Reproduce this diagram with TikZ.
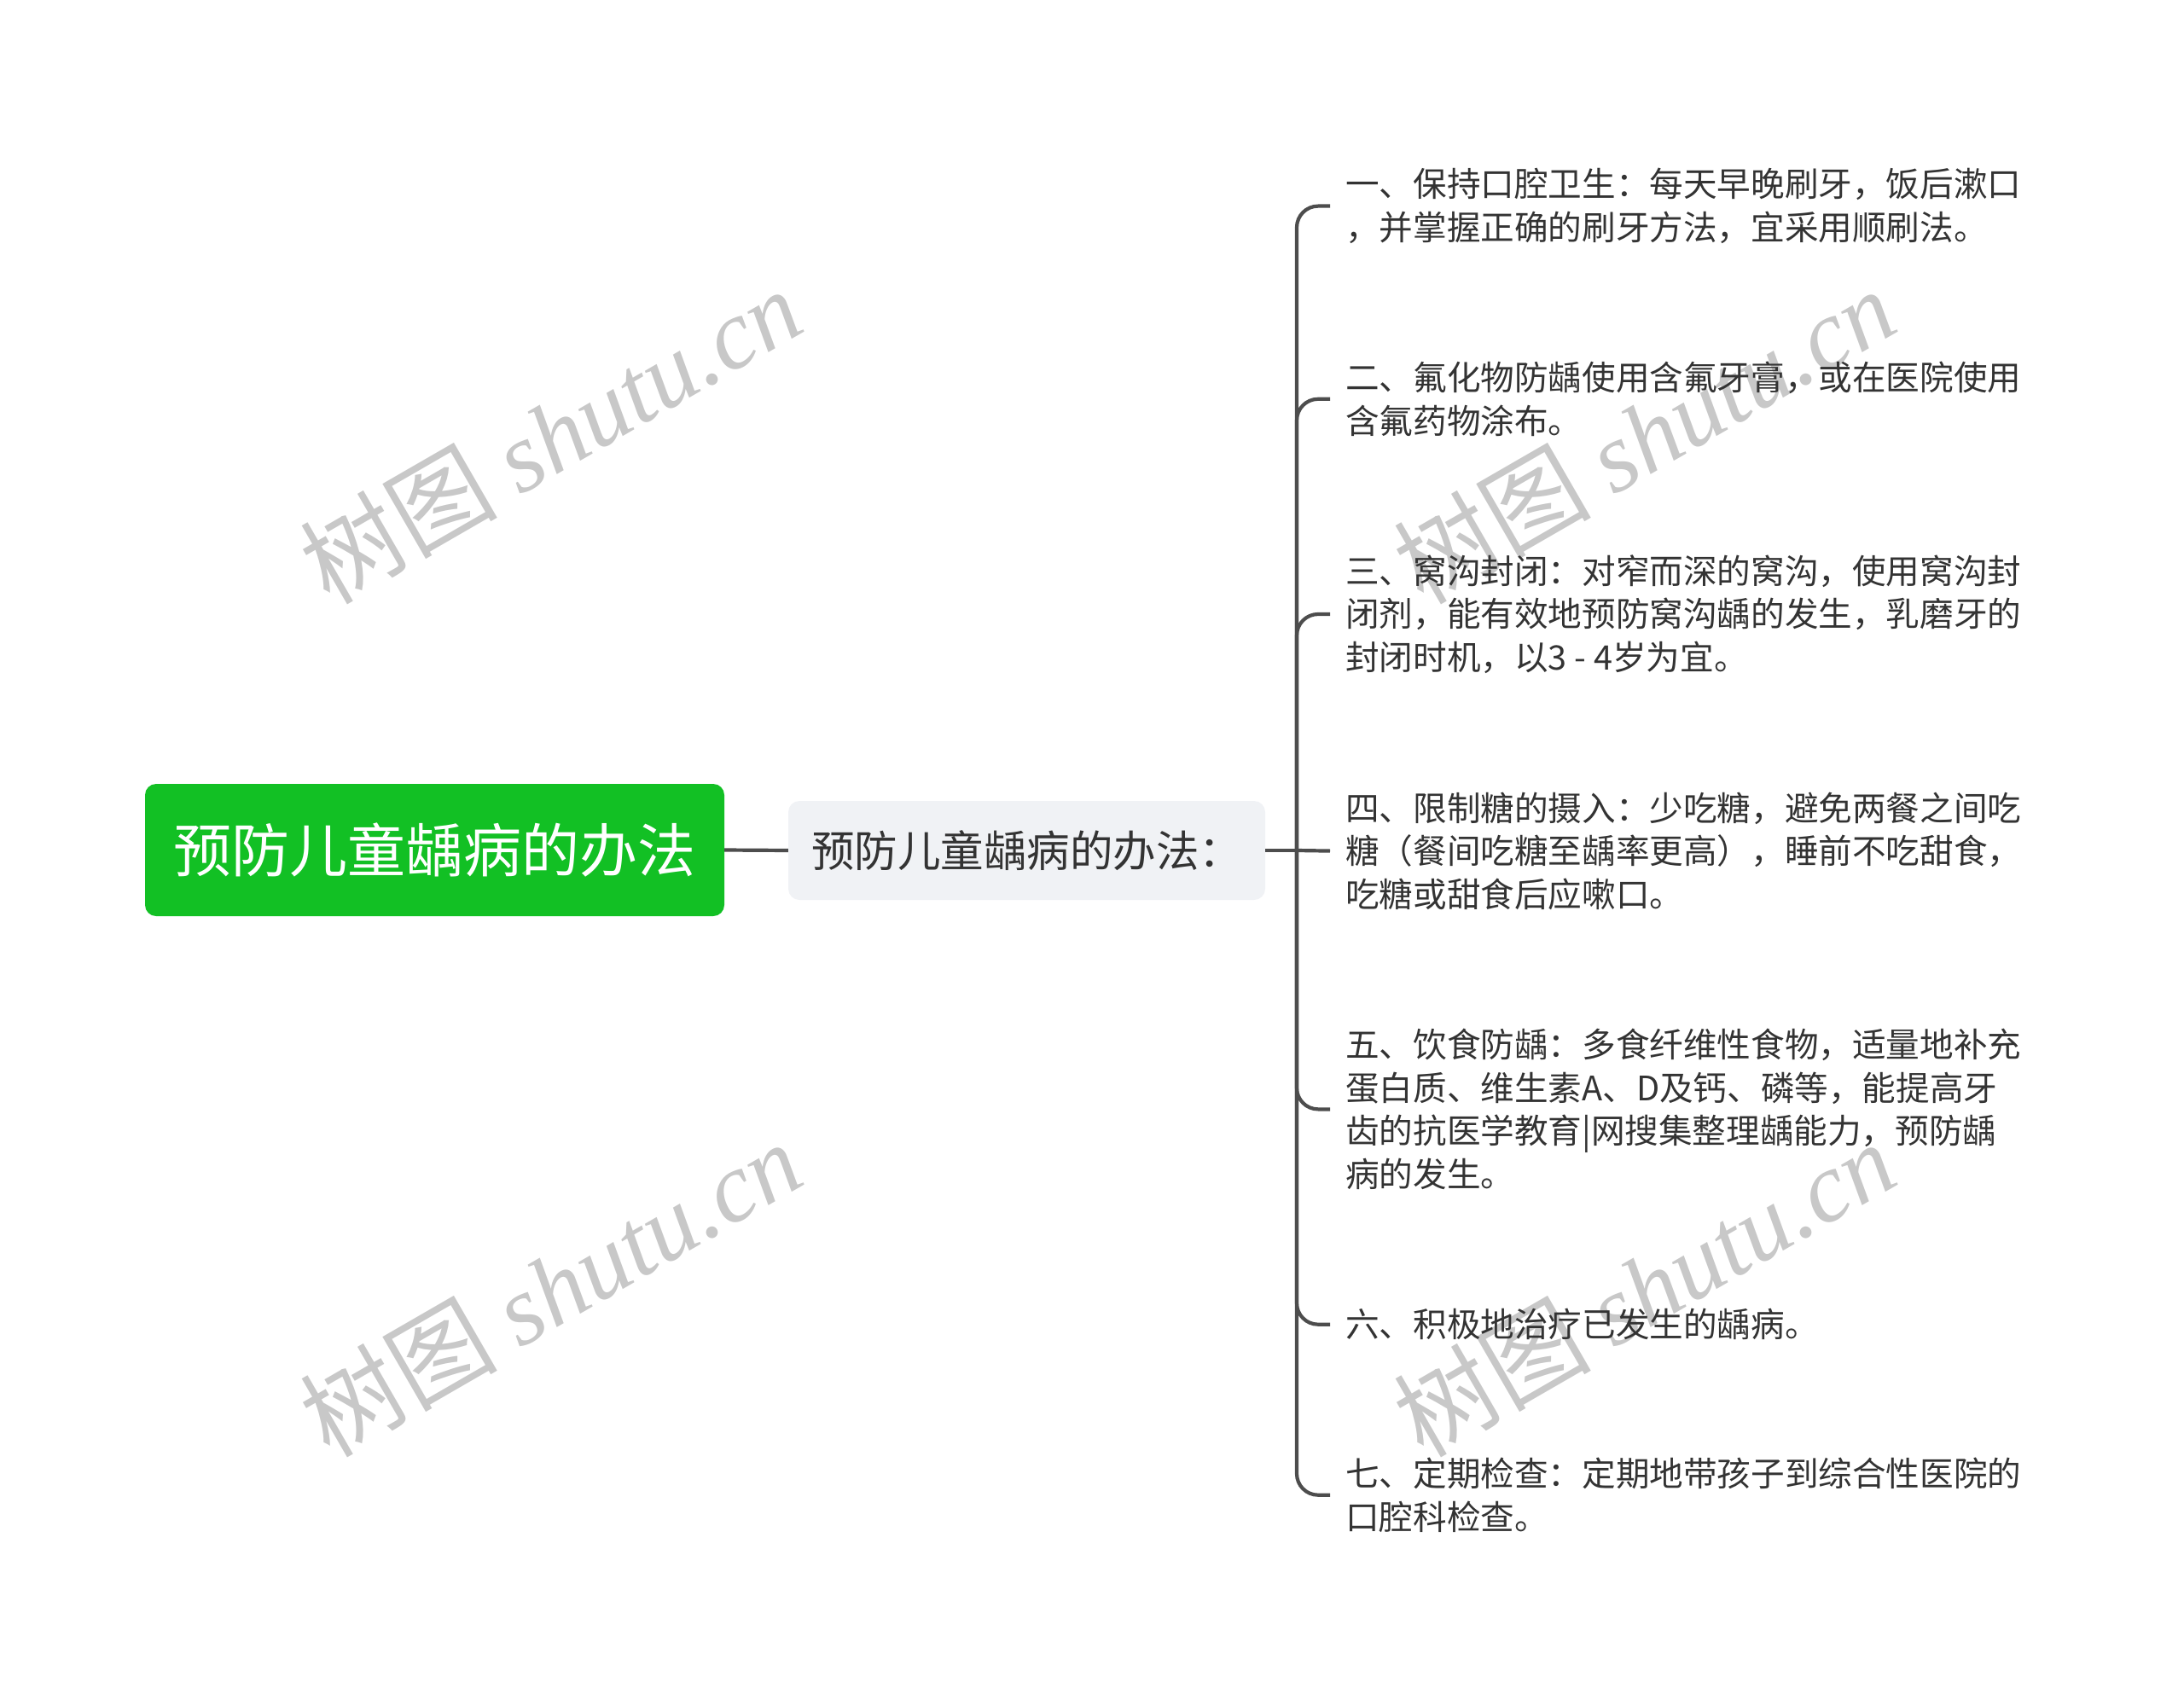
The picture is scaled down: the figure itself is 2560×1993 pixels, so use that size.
\documentclass[tikz,border=0pt]{standalone}
\usepackage{fontspec}
\setmainfont{Noto Sans CJK SC}
\newfontfamily\cjk{Noto Sans CJK SC}
\newfontfamily\wmserif{Liberation Serif}
\definecolor{rootgreen}{RGB}{18,192,36}
\definecolor{subfill}{RGB}{240,242,245}
\definecolor{linegray}{RGB}{77,77,77}
\definecolor{txtgray}{RGB}{51,51,51}
\definecolor{wmgray}{RGB}{200,200,200}
\begin{document}
\begin{tikzpicture}[x={(1pt,0)},y={(0,-1pt)},
  rootbox/.style={fill=rootgreen,rounded corners=13pt,minimum width=679pt,minimum height=155pt,text=white,inner sep=0pt,font=\cjk\fontsize{68}{78}\selectfont},
  subbox/.style={fill=subfill,rounded corners=13pt,minimum width=559pt,minimum height=116pt,text=txtgray,inner sep=0pt,font=\cjk\fontsize{50.5}{58}\selectfont},
  leaf/.style={anchor=west,align=left,text=txtgray,inner xsep=18pt,inner ysep=0pt,font=\cjk\fontsize{39.6}{50.6}\selectfont},
  conn/.style={draw=linegray,line width=4.2pt},
  wm/.style={text=wmgray,rotate=30,font=\fontsize{116}{120}\selectfont}
]
\useasboundingbox (0,0) rectangle (2560,1993);
% watermarks
\foreach \wx/\wy [count=\i] in {645/510,645/1510,1927/510,1927/1510}{
  \node[wm] (wm\i) at (\wx,\wy) {{\cjk 树图} {\wmserif\itshape shutu.cn}};
}
\node[rootbox] (root) at (509.5,996.5) {预防儿童龋病的办法};
\node[subbox] (sub) at (1203.5,997) {预防儿童龋病的办法：};
\coordinate (trunk) at (1520,997);

\node[leaf] (i1) at (1559,241.6) {一、保持口腔卫生：每天早晚刷牙，饭后漱口\\，并掌握正确的刷牙方法，宜采用顺刷法。};
\node[leaf] (i2) at (1559,467.8) {二、氟化物防龋使用含氟牙膏，或在医院使用\\含氟药物涂布。};
\node[leaf] (i3) at (1559,720) {三、窝沟封闭：对窄而深的窝沟，使用窝沟封\\闭剂，能有效地预防窝沟龋的发生，乳磨牙的\\封闭时机，以3 - 4岁为宜。};
\node[leaf] (i4) at (1559,997.6) {四、限制糖的摄入：少吃糖，避免两餐之间吃\\糖（餐间吃糖至龋率更高），睡前不吃甜食，\\吃糖或甜食后应嗽口。};
\node[leaf] (i5) at (1559,1300.4) {五、饮食防龋：多食纤维性食物，适量地补充\\蛋白质、维生素A、D及钙、磷等，能提高牙\\齿的抗医学教育|网搜集整理龋能力，预防龋\\病的发生。};
\node[leaf] (i6) at (1559,1552.7) {六、积极地治疗已发生的龋病。};
\node[leaf] (i7) at (1559,1752.7) {七、定期检查：定期地带孩子到综合性医院的\\口腔科检查。};

\draw[conn] (root.east) -- (sub.west);
\draw[conn] (sub.east) -- (trunk);
\foreach \n in {i1,i2,i3,i5,i6,i7}{
  \draw[conn,rounded corners=25pt] (trunk) |- (\n.west);
}
\draw[conn] (trunk) -- (i4.west);
\end{tikzpicture}
\end{document}
